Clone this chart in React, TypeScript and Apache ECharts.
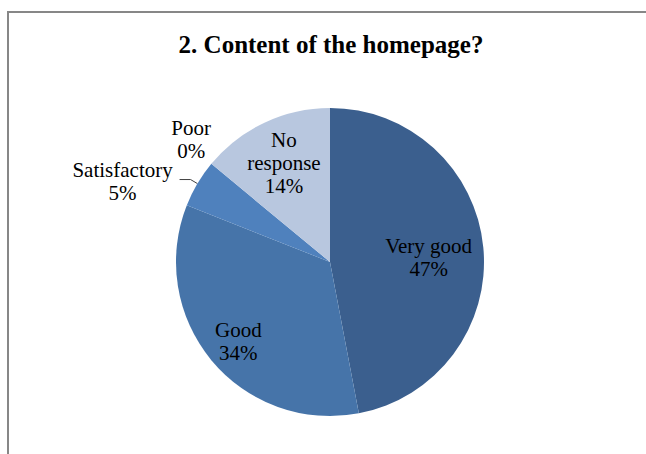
import React, { useEffect, useRef } from "react";
import * as echarts from "echarts";

const titleText = "2. Content of the homepage?";
const categories = ["Very good", "Good", "Satisfactory", "Poor", "No response"];
const labelNames = ["Very good", "Good", "Satisfactory", "Poor", "No\nresponse"];
const values = [47, 34, 5, 0, 14];
const colors = ["#3B5F8E", "#4674A9", "#4F81BD", "#7EA0CE", "#B8C7DF"];

// label fine-tuning offsets (style only)
const labelOffsets = [
  { dx: 19, dy: 3 },
  { dx: -30, dy: 29 },
  { dx: -52, dy: 2 },
  { dx: 2, dy: -19 },
  { dx: -12, dy: -27 },
];

const FONT = "'Liberation Serif', 'Times New Roman', serif";

export default function App() {
  const ref = useRef<HTMLDivElement>(null);
  useEffect(() => {
    if (!ref.current) return;
    const chart = echarts.init(ref.current, null, { renderer: "svg" });
    const data = categories.map((c, i) => {
      const inside = i === 0 || i === 1 || i === 4;
      return {
        name: c,
        value: values[i],
        itemStyle: { color: colors[i] },
        label: {
          position: inside ? "inside" : "outside",
        },
        labelLine: { show: i === 2 },
      };
    });
    chart.setOption({
      animation: false,
      backgroundColor: "#ffffff",
      title: {
        text: titleText,
        left: 326,
        top: 27,
        textAlign: "center",
        textStyle: {
          fontFamily: FONT,
          fontWeight: "bold",
          fontSize: 25,
          color: "#000000",
        },
      },
      graphic: [
        {
          type: "rect",
          shape: { x: 8, y: 12, width: 700, height: 500 },
          style: { fill: "none", stroke: "#878787", lineWidth: 2 },
          silent: true,
        },
      ],
      series: [
        {
          type: "pie",
          center: [330, 262],
          radius: 154,
          startAngle: 90,
          clockwise: true,
          avoidLabelOverlap: false,
          stillShowZeroSum: true,
          itemStyle: { borderWidth: 0 },
          label: {
            show: true,
            fontFamily: FONT,
            fontSize: 21,
            lineHeight: 23,
            color: "#000000",
            formatter: (p: any) => labelNames[p.dataIndex] + "\n" + Math.round(p.percent) + "%",
          },
          labelLine: {
            length: 8,
            length2: 11,
            lineStyle: { color: "#404040", width: 1 },
          },
          labelLayout: (p: any) => {
            const o = labelOffsets[p.dataIndex];
            const res: any = { dx: o.dx, dy: o.dy };
            if (p.dataIndex === 2 || p.dataIndex === 3) res.align = "center";
            return res;
          },
          data,
        },
      ],
    });
    return () => chart.dispose();
  }, []);
  return (
    <div
      ref={ref}
      style={{ position: "fixed", left: 0, top: 0, width: 646, height: 454, background: "#fff" }}
    />
  );
}
